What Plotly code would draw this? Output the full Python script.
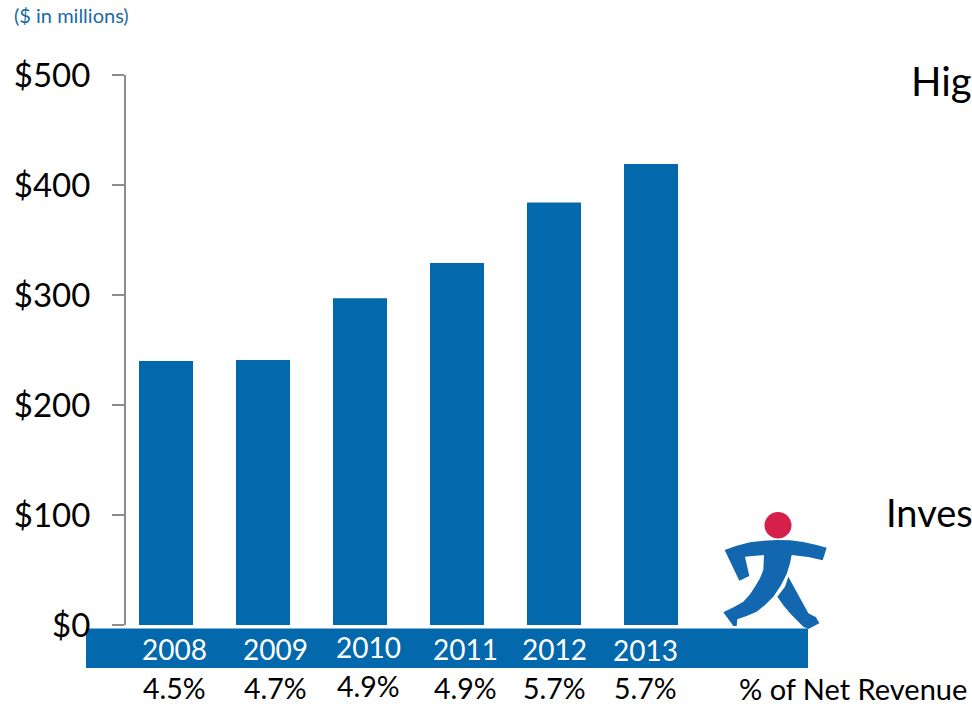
import plotly.graph_objects as go

W, H = 972, 704
PLOT_L, PLOT_R, PLOT_T, PLOT_B = 125, 700, 75, 625

years = [2008, 2009, 2010, 2011, 2012, 2013]
spend = [240, 241, 297, 329, 384, 419]
year_labels = ["2008", "2009", "2010", "2011", "2012", "2013"]
pct_labels = ["4.5%", "4.7%", "4.9%", "4.9%", "5.7%", "5.7%"]
label_x = [174, 275, 368, 465, 554, 645]
year_y = [649, 649, 647, 649, 649, 650]
pct_y = [688, 688, 686, 688, 688, 688]
y_ticks = [0, 100, 200, 300, 400, 500]
y_tick_labels = ["$0", "$100", "$200", "$300", "$400", "$500"]

BLUE = "#0468AC"
LOGO_BLUE = "#1367AE"
RED = "#D4204A"
FONT = "Lato"


def px(x):
    return x / W


def py(y):
    return 1 - y / H


def note(text, x, y, size, color="black", xanchor="center"):
    return dict(text=text, x=px(x), y=py(y), xref="paper", yref="paper",
                xanchor=xanchor, yanchor="middle", showarrow=False,
                font=dict(family=FONT, size=size, color=color))


def logo_path(points):
    # Outline of the runner, traced at 3x around the corner at (680, 480)
    coords = [(px(680 + a / 3), py(480 + b / 3)) for a, b in points]
    return "M " + " L ".join(f"{a:.5f},{b:.5f}" for a, b in coords) + " Z"


torso = [(134, 210), (170, 197), (210, 187), (250, 182), (290, 180), (330, 181), (370, 186),
         (410, 195), (440, 203), (428, 241), (385, 231), (335, 225), (330, 250), (320, 282),
         (302, 317), (280, 350), (255, 375), (230, 395), (200, 408), (172, 418), (170, 438),
         (160, 438), (130, 397), (162, 381), (190, 365), (210, 343), (225, 320), (240, 295),
         (250, 270), (252, 225), (195, 230), (208, 288), (178, 302)]
leg = [(325, 290), (355, 345), (385, 400), (408, 412), (418, 430), (385, 447), (370, 440),
       (350, 420), (330, 400), (310, 376), (292, 350), (315, 320)]

fig = go.Figure(go.Bar(x=years, y=spend, width=54 / 97, marker=dict(color=BLUE, line=dict(width=0))))

shapes = [
    dict(type="rect", xref="paper", yref="paper", x0=px(86), x1=px(808), y0=py(668), y1=py(628.5),
         fillcolor=BLUE, line=dict(width=0), layer="below"),
    dict(type="path", xref="paper", yref="paper", path=logo_path(torso),
         fillcolor=LOGO_BLUE, line=dict(width=0)),
    dict(type="path", xref="paper", yref="paper", path=logo_path(leg),
         fillcolor=LOGO_BLUE, line=dict(width=0)),
    dict(type="circle", xref="paper", yref="paper", x0=px(764.5), x1=px(791.5), y0=py(538.5), y1=py(512),
         fillcolor=RED, line=dict(width=0)),
]

annotations = [note("($ in millions)", 12, 15, 20, color="#1B6AA5", xanchor="left")]
annotations += [note(t, x, y, 28, color="white") for t, x, y in zip(year_labels, label_x, year_y)]
annotations += [note(t, x, y, 28.5) for t, x, y in zip(pct_labels, label_x, pct_y)]
annotations += [
    note("% of Net Revenue", 737, 688, 29, xanchor="left"),
    note("Hig", 909, 81, 40, xanchor="left"),
    note("Inves", 884, 512, 38, xanchor="left"),
]

fig.update_layout(
    width=W, height=H, autosize=False,
    margin=dict(l=0, r=0, t=0, b=0, autoexpand=False),
    paper_bgcolor="white", plot_bgcolor="white",
    showlegend=False,
    shapes=shapes, annotations=annotations,
    xaxis=dict(domain=[px(PLOT_L), px(PLOT_R)], visible=False,
               range=[2008 + (PLOT_L - 166) / 97, 2008 + (PLOT_R - 166) / 97]),
    yaxis=dict(domain=[py(PLOT_B), py(PLOT_T)], range=[0, 500], anchor="free", position=px(PLOT_L),
               tickvals=y_ticks, ticktext=y_tick_labels, ticks="outside", ticklen=12, tickwidth=2,
               tickcolor="#8C8C8C", showline=True, linecolor="#8C8C8C", linewidth=2,
               showgrid=False, zeroline=False, ticklabelstandoff=15, automargin=False,
               tickfont=dict(family=FONT, size=33, color="black")),
)

fig.write_html("out.html")
